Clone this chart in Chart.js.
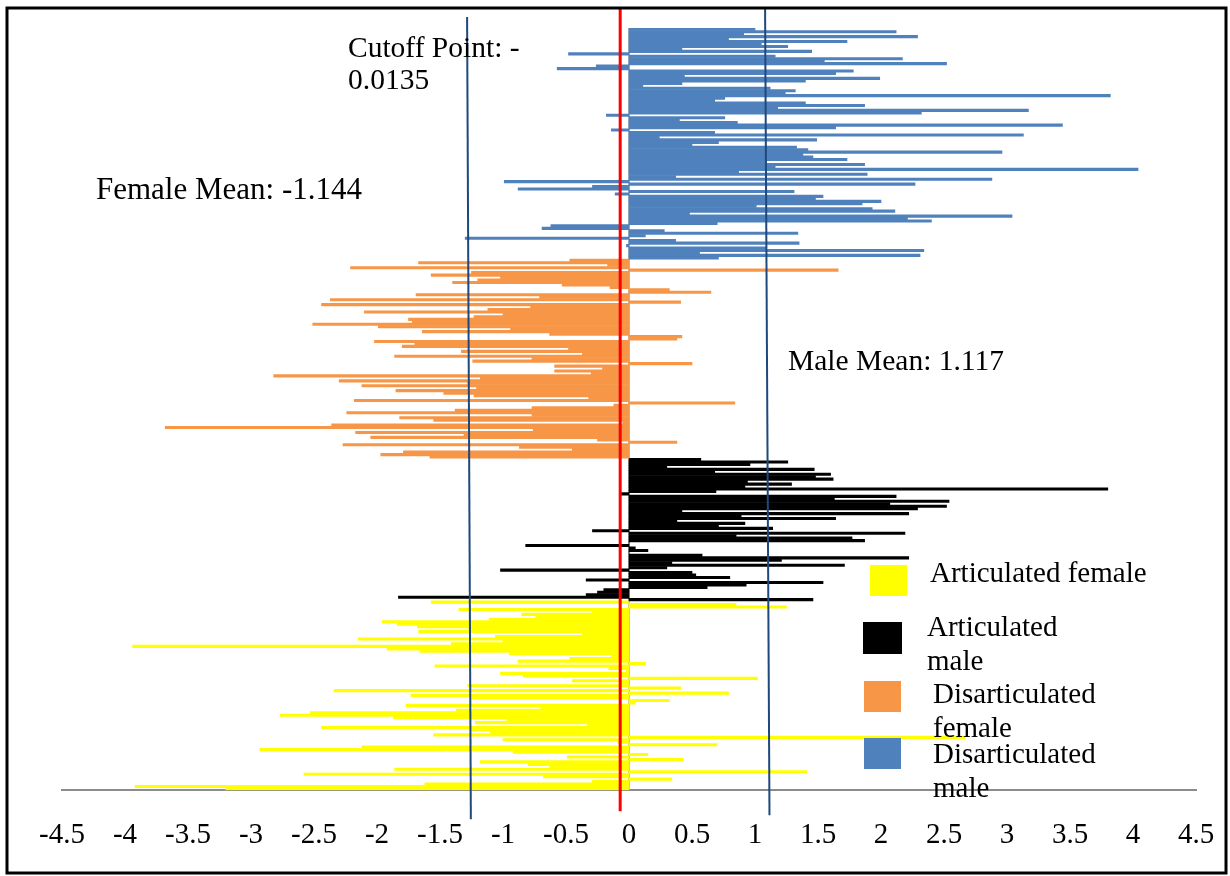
<!DOCTYPE html>
<html>
<head>
<meta charset="utf-8">
<script src="https://cdn.jsdelivr.net/npm/chart.js@4.4.1/dist/chart.umd.min.js"></script>
<style>
  body { margin: 0; background: #fff; }
  #wrap { width: 1230px; height: 876px; position: relative; }
</style>
</head>
<body>
<div id="wrap"><canvas id="chart"></canvas></div>
<script>
// discriminant scores, one bar per individual, top to bottom
const disMale = [1.0, 2.12, 0.91, 2.29, 0.79, 1.73, 1.05, 1.26, 0.42, 1.45,
  -0.48, 1.16, 2.17, 1.55, 2.52, -0.26, -0.57, 1.78, 1.64, 0.44,
  1.99, 1.4, 0.42, 0.11, 1.12, 1.32, 1.24, 3.82, 0.76, 0.68,
  1.4, 1.87, 1.18, 3.17, 2.32, -0.18, 0.76, 0.4, 0.86, 3.44,
  1.64, -0.14, 0.68, 3.13, 0.24, 1.49, 0.71, 0.5, 1.33, 1.42,
  2.96, 1.38, 1.46, 1.73, 1.09, 1.87, 1.16, 4.04, 0.87, 1.89,
  0.37, 2.88, -0.99, 2.27, -0.29, -0.88, 1.31, -0.11, 1.54, 1.48,
  2.0, 1.85, 1.01, 1.93, 2.11, 0.48, 3.04, 2.21, 2.4, 0.7,
  -0.62, -0.69, 0.28, 1.34, 0.13, -1.3, 0.37, 1.35, -0.02, 1.09,
  2.34, 0.56, 2.31, 0.71];
const disFemale = [-0.47, -1.67, -0.17, -2.21, 1.66, -1.25, -1.57, -1.02, -1.2, -1.4,
  -0.53, -0.15, 0.32, 0.65, -1.69, -0.71, -2.37, 0.41, -2.44, -0.78,
  -1.12, -2.1, -1.0, -1.23, -1.75, -1.72, -2.51, -1.99, -0.94, -1.64,
  -0.63, 0.42, 0.38, -2.02, -1.7, -1.8, -0.48, -1.33, -0.37, -1.86,
  -0.77, -1.24, 0.5, -0.59, -0.21, -0.59, -0.3, -2.82, -1.18, -2.3,
  -1.28, -2.12, -1.21, -1.85, -1.47, -1.23, -0.32, -2.18, 0.84, -0.12,
  -0.77, -1.38, -2.24, -0.77, -1.82, -1.55, -0.05, -2.36, -3.68, -0.76,
  -2.17, -1.31, -2.05, -0.25, 0.38, -2.27, -0.87, -0.45, -1.79, -1.97,
  -1.58];
const artMale = [0.57, 1.26, 0.96, 0.3, 1.47, 0.68, 1.6, 1.48, 1.62, 0.94,
  1.29, 0.92, 3.8, 0.69, -0.06, 2.12, 1.63, 2.54, 2.07, 2.52,
  2.29, 0.42, 2.22, 0.89, 1.64, 0.38, 0.92, 0.71, 1.14, -0.29,
  2.19, 0.85, 1.77, 1.87, 0, -0.82, 0.05, 0.15, 0, 0.58,
  2.22, 1.21, 0.34, 1.71, 0.3, -1.02, 0.5, 0.53, 0.8, -0.34,
  1.54, 0.93, 0.62, -0.2, -0.25, -0.34, -1.83, 1.46];
const artFemale = [-1.57, 0.85, 1.25, -1.35, -0.29, -0.85, -0.74, -1.11, -1.96, -1.84,
  -1.68, -1.27, -1.67, -0.37, -1.06, -2.15, -1.0, -1.41, -3.94, -1.92,
  -1.66, -0.95, -0.14, -0.47, -0.88, 0.13, -1.54, -0.16, -0.02, -1.02,
  -0.84, 1.02, -0.45, -0.08, -1.28, 0.41, -2.34, 0.79, -1.73, -1.25,
  0.32, 0.05, -1.77, -0.7, -1.37, -2.53, -2.77, -1.87, -0.97, -1.22,
  -0.33, -2.44, -1.25, -1.1, -1.55, 2.67, -1.0, -0.09, 0.7, -2.12,
  -2.93, -0.92, 0.15, -0.49, 0.43, -1.18, -0.8, -0.63, -1.86, 1.41,
  -2.58, -0.68, 0.34, -0.29, -1.62, -3.92, -3.2];

const seriesNames = ['Disarticulated male', 'Disarticulated female', 'Articulated male', 'Articulated female'];
const seriesColors = ['#4f81bd', '#f79646', '#000000', '#ffff00'];
const xTickValues = [-4.5, -4, -3.5, -3, -2.5, -2, -1.5, -1, -0.5, 0, 0.5, 1, 1.5, 2, 2.5, 3, 3.5, 4, 4.5];

// reference lines (drawn slightly tilted like the original figure)
const femaleMeanLine = [-1.285, -1.255];
const cutoffLine = [-0.07, -0.07];
const maleMeanLine = [1.08, 1.115];

const serif = '"Liberation Serif", "Times New Roman", serif';

const groups = [disMale, disFemale, artMale, artFemale];
const total = groups.reduce((s, g) => s + g.length, 0);
const labels = [];
for (let i = 1; i <= total; i++) labels.push(String(i));

let start = 0;
const datasets = groups.map((g, k) => {
  const d = new Array(total).fill(null);
  g.forEach((v, i) => { d[start + i] = v; });
  start += g.length;
  return {
    label: seriesNames[k],
    data: d,
    backgroundColor: seriesColors[k],
    borderWidth: 0,
    grouped: false,
    barPercentage: 1,
    categoryPercentage: 1
  };
});

const extras = {
  id: 'extras',
  beforeDatasetsDraw(chart) {
    const {ctx, chartArea, scales: {x}} = chart;
    ctx.save();
    ctx.strokeStyle = '#a6a6a6';
    ctx.lineWidth = 1.5;
    ctx.beginPath();
    ctx.moveTo(x.getPixelForValue(0), chartArea.top);
    ctx.lineTo(x.getPixelForValue(0), chartArea.bottom);
    ctx.stroke();
    ctx.restore();
  },
  afterDatasetsDraw(chart) {
    const {ctx, chartArea, scales: {x}} = chart;
    const line = (vals, color, w, y0, y1) => {
      ctx.strokeStyle = color;
      ctx.lineWidth = w;
      ctx.beginPath();
      ctx.moveTo(x.getPixelForValue(vals[0]), y0);
      ctx.lineTo(x.getPixelForValue(vals[1]), y1);
      ctx.stroke();
    };
    ctx.save();
    line(femaleMeanLine, '#1f497d', 2, chartArea.top - 11, chartArea.bottom + 29);
    line(maleMeanLine, '#1f497d', 2, chartArea.top - 20, chartArea.bottom + 25);
    line(cutoffLine, '#ff0000', 3, chartArea.top - 20, chartArea.bottom + 21);

    ctx.fillStyle = '#000';
    ctx.textBaseline = 'alphabetic';
    ctx.font = '29.5px ' + serif;
    ctx.fillText('Cutoff Point: -', 348, 57);
    ctx.fillText('0.0135', 348, 89);
    ctx.fillText('Male Mean: 1.117', 788, 370);
    ctx.font = '31px ' + serif;
    ctx.fillText('Female Mean: -1.144', 96, 199);

    // legend, listed in reverse series order like the original
    ctx.font = '29px ' + serif;
    const legendItems = [
      {k: 3, box: [870, 565, 37, 31], tx: 930, lines: ['Articulated female'], base: 582},
      {k: 2, box: [863, 622, 39, 32], tx: 927, lines: ['Articulated', 'male'], base: 636},
      {k: 1, box: [864, 681, 37, 31], tx: 933, lines: ['Disarticulated', 'female'], base: 703},
      {k: 0, box: [864, 738, 37, 31], tx: 933, lines: ['Disarticulated', 'male'], base: 763}
    ];
    legendItems.forEach(it => {
      ctx.fillStyle = seriesColors[it.k];
      ctx.fillRect(...it.box);
      ctx.fillStyle = '#000';
      it.lines.forEach((t, j) => ctx.fillText(t, it.tx, it.base + j * 34));
    });
    ctx.restore();
  },
  afterDraw(chart) {
    const {ctx} = chart;
    ctx.save();
    ctx.strokeStyle = '#000';
    ctx.lineWidth = 3;
    ctx.strokeRect(7, 8, 1219, 865);
    ctx.restore();
  }
};

new Chart(document.getElementById('chart'), {
  type: 'bar',
  data: { labels: labels, datasets: datasets },
  options: {
    indexAxis: 'y',
    responsive: true,
    maintainAspectRatio: false,
    animation: false,
    layout: { padding: { left: 62, right: 34, top: 28, bottom: -5 } },
    plugins: { legend: { display: false }, tooltip: { enabled: false } },
    scales: {
      x: {
        type: 'linear',
        min: -4.5,
        max: 4.5,
        afterBuildTicks: s => { s.ticks = xTickValues.map(v => ({ value: v })); },
        afterFit: s => { s.paddingLeft = 0; s.paddingRight = 0; },
        grid: { display: false, drawTicks: false },
        border: { display: true, color: '#8c8c8c', width: 2 },
        ticks: {
          autoSkip: false,
          maxRotation: 0,
          padding: 28,
          color: '#000',
          font: { family: serif, size: 29 },
          callback: v => String(Number(v.toFixed(1)))
        }
      },
      y: {
        type: 'category',
        display: false,
        stacked: false
      }
    }
  },
  plugins: [extras]
});
</script>
</body>
</html>
